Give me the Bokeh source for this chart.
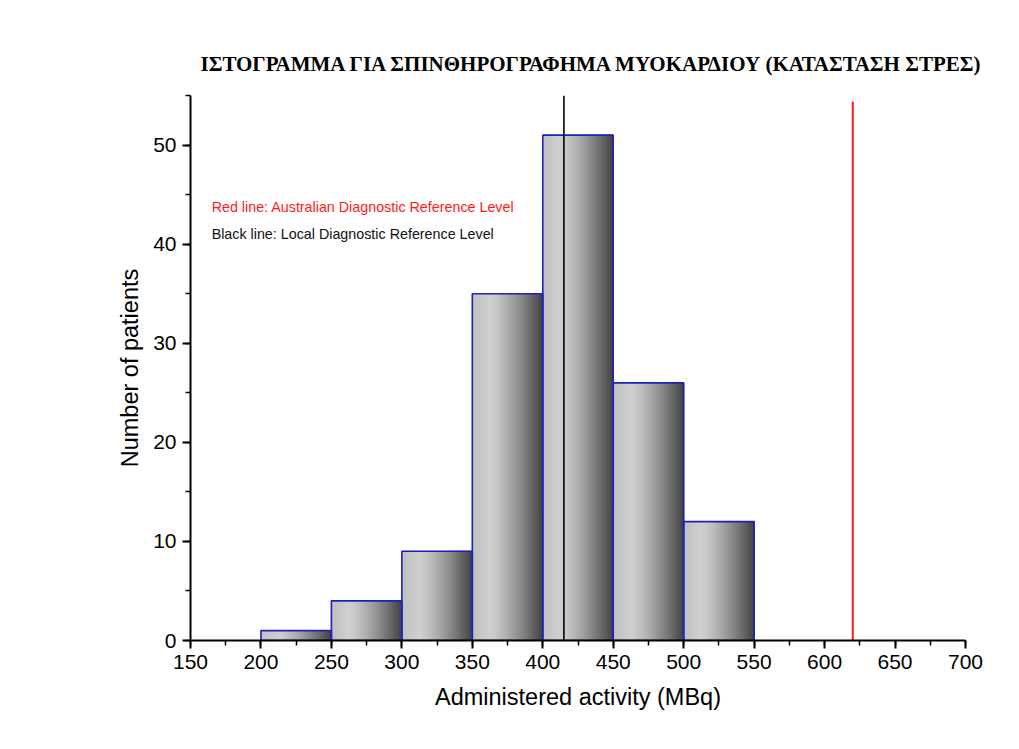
from bokeh.plotting import figure
from bokeh.embed import file_html
from bokeh.resources import INLINE
from bokeh.models import Range1d, FixedTicker
from bokeh.core.properties import value

# ---- data ----
bin_left = [200, 250, 300, 350, 400, 450, 500]
bin_right = [250, 300, 350, 400, 450, 500, 550]
counts = [1, 4, 9, 35, 51, 26, 12]
local_drl = 415
australian_drl = 620
title_text = "ΙΣΤΟΓΡΑΜΜΑ ΓΙΑ ΣΠΙΝΘΗΡΟΓΡΑΦΗΜΑ ΜΥΟΚΑΡΔΙΟΥ (ΚΑΤΑΣΤΑΣΗ ΣΤΡΕΣ)"
x_ticks = [150, 200, 250, 300, 350, 400, 450, 500, 550, 600, 650, 700]
y_ticks = [0, 10, 20, 30, 40, 50]

p = figure(width=1019, height=749, output_backend="svg", toolbar_location=None,
           x_range=Range1d(150, 700), y_range=Range1d(0, 55),
           min_border_left=190, min_border_right=54, min_border_top=95,
           min_border_bottom=109)
p.title.text = title_text
p.title.align = "left"
p.title.text_font = "Liberation Serif"
p.title.text_font_style = "bold"
p.title.text_font_size = "21px"
p.title.text_color = "black"
p.title.offset = 10
p.title.standoff = 40

p.background_fill_color = "white"
p.border_fill_color = "white"
p.outline_line_color = None
p.xgrid.visible = False
p.ygrid.visible = False

# gradient-filled bars built from strips
def shade(t):
    if t < 0.25:
        g = 192 + (208 - 192) * (t / 0.25)
    else:
        s = (t - 0.25) / 0.75
        g = 208 - (208 - 68) * (s ** 1.3)
    g = int(round(g))
    return "#%02x%02x%02x" % (g, g, g)

N = 50
L, R, T, C = [], [], [], []
for bl, br, c in zip(bin_left, bin_right, counts):
    w = (br - bl) / N
    for i in range(N):
        L.append(bl + i * w)
        R.append(min(bl + (i + 2) * w, br))
        T.append(c)
        C.append(shade((i + 0.5) / N))
p.quad(left=L, right=R, bottom=0, top=T, fill_color=C, line_color=C, line_width=0.6)
p.quad(left=bin_left, right=bin_right, bottom=0, top=counts,
       fill_color=None, line_color="#1f1fbf", line_width=1.6)

# reference lines
p.segment(x0=[australian_drl], y0=[0], x1=[australian_drl], y1=[54.4],
          line_color="#ff1a1a", line_width=2)
p.segment(x0=[local_drl], y0=[0], x1=[local_drl], y1=[55],
          line_color="black", line_width=1.6)

p.text(x=[165], y=[43.75], text=["Red line: Australian Diagnostic Reference Level"],
       text_color="#ff1a1a", text_font=value("Liberation Sans"),
       text_font_size="14.3px", text_baseline="middle")
p.text(x=[165], y=[41.0], text=["Black line: Local Diagnostic Reference Level"],
       text_color="#111111", text_font=value("Liberation Sans"),
       text_font_size="14.3px", text_baseline="middle")

for ax in (p.xaxis[0], p.yaxis[0]):
    ax.axis_line_width = 2
    ax.axis_line_color = "black"
    ax.major_tick_line_width = 2
    ax.minor_tick_line_width = 1.5
    ax.major_tick_out = 8
    ax.major_tick_in = 0
    ax.minor_tick_out = 5
    ax.minor_tick_in = 0
    ax.major_label_text_font = "Liberation Sans"
    ax.major_label_text_font_size = "21px"
    ax.major_label_text_color = "black"
    ax.axis_label_text_font = "Liberation Sans"
    ax.axis_label_text_font_size = "23.5px"
    ax.axis_label_text_font_style = "normal"
    ax.axis_label_text_color = "black"

p.xaxis.ticker = FixedTicker(ticks=x_ticks, minor_ticks=list(range(150, 701, 25)))
p.yaxis.ticker = FixedTicker(ticks=y_ticks, minor_ticks=list(range(0, 56, 5)))
p.xaxis.axis_label = "Administered activity (MBq)"
p.yaxis.axis_label = "Number of patients"
p.xaxis.axis_label_standoff = 12
p.yaxis.axis_label_standoff = 7
p.xaxis.major_label_standoff = 6
p.yaxis.major_label_standoff = 6

open("out.html", "w").write(file_html(p, INLINE))
